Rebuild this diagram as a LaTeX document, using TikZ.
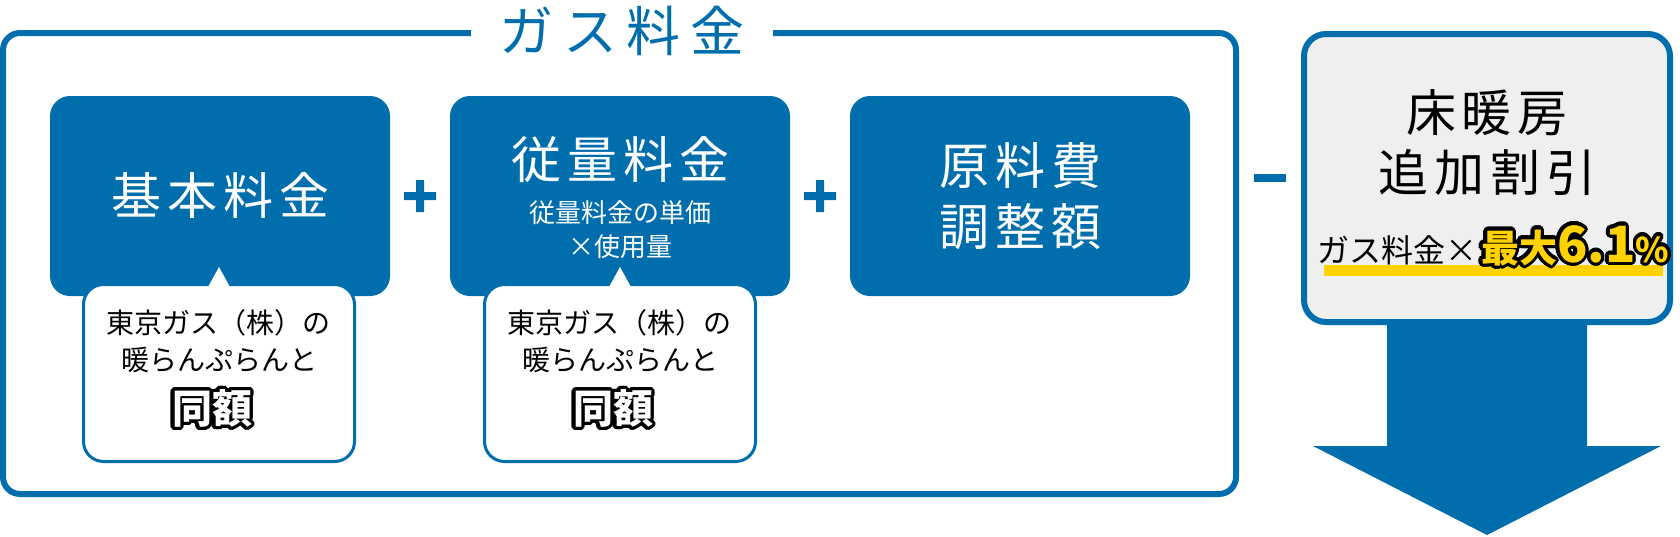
\documentclass[tikz,border=0pt]{standalone}
\usepackage{fontspec}
\usepackage[copies]{contour}
\usepackage{tikz}
\usetikzlibrary{calc}
\setmainfont{Noto Sans CJK JP}
\newfontfamily\jpwide{Noto Sans CJK JP}[LetterSpace=12]
\newfontfamily\jphead{Noto Sans CJK JP}[LetterSpace=18]
\definecolor{gasblue}{RGB}{0,110,173}
\definecolor{lightgrey}{RGB}{239,239,239}
\definecolor{markyellow}{RGB}{255,210,0}
\contournumber{32}
\contourlength{1.6pt}

\begin{document}
\begin{tikzpicture}[x=0.5pt,y=-0.5pt,
        bluebox/.style={fill=gasblue,rounded corners=10pt,minimum width=170pt,minimum height=100pt,inner sep=0pt},
        notebox/.style={draw=gasblue,line width=1.5pt,fill=white,rounded corners=10pt,minimum width=135.5pt,minimum height=88.5pt,inner sep=0pt},
        bigtxt/.style={text=white,font=\jpwide\fontsize{25}{30.5}\selectfont,inner sep=0pt,align=center},
        smalltxt/.style={text=white,font=\fontsize{13}{17}\selectfont,inner sep=0pt,align=center},
        notetxt/.style={font=\fontsize{14}{18}\selectfont,inner sep=0pt}]
        \useasboundingbox (0,0) rectangle (1680,536);

        % outer frame and its title
        \draw [gasblue,line width=3pt,rounded corners=8.5pt] (3,33) rectangle (1236,494);
        \node [fill=white,minimum width=151pt,inner sep=1pt,text=gasblue,font=\jphead\fontsize{27}{30}\selectfont] (title) at (622,31) {ガス料金};

        % the three charges
        \node [bluebox] (kihon) at (220,196) {};
        \node [bluebox] (juryo) at (620,196) {};
        \node [bluebox] (genryo) at (1020,196) {};
        \node [bigtxt] (kihontxt) at (220,195) {基本料金};
        \node [bigtxt] (juryotxt) at (620,160) {従量料金};
        \node [smalltxt] (juryosub) at (620,230) {従量料金の単価\\×使用量};
        \node [bigtxt] (genryotxt) at (1020,196) {原料費\\調整額};

        % + + -
        \foreach \px in {420,820}
            \fill [gasblue] (\px-16,192) rectangle (\px+16,200) (\px-4,180) rectangle (\px+4,212);
        \fill [gasblue] (1254,174) rectangle (1286,182);

        % callouts
        \foreach \cx/\nm in {219/noteA,620/noteB} {
            \node [notebox] (\nm) at (\cx,373) {};
            \fill [white] ($(\nm.north)+(-11,4)$) -- ($(\nm.north)+(0,-16)$) -- ($(\nm.north)+(11,4)$) -- cycle;
            \node [notetxt] (\nm-a) at ($(\nm)+(-1,-50)$) {東京ガス（株）の};
            \node [notetxt] (\nm-b) at ($(\nm)+(0,-13)$) {暖らんぷらんと};
            \node [inner sep=0pt,text=white,font=\bfseries\fontsize{20}{24}\selectfont] (\nm-c) at ($(\nm)+(-7,37)$) {\contour{black}{同額}};
        }

        % discount box and arrow
        \node [draw=gasblue,line width=3pt,fill=lightgrey,rounded corners=11pt,minimum width=183pt,minimum height=144pt,inner sep=0pt] (waribiki) at (1487,178) {};
        \fill [gasblue] ($(waribiki.south)+(-100,-3)$) -- ($(waribiki.south)+(-100,121)$) -- ($(waribiki.south)+(-174,121)$)
            -- ($(waribiki.south)+(0,210)$) -- ($(waribiki.south)+(174,121)$) -- ($(waribiki.south)+(100,121)$)
            -- ($(waribiki.south)+(100,-3)$) -- cycle;
        \node [font=\jpwide\fontsize{25}{30}\selectfont,align=center,inner sep=0pt] (waribikitxt) at (1487,143) {床暖房\\追加割引};
        \fill [fill=markyellow] (1324,265) rectangle (1663,276);
        \node [anchor=base,inner sep=0pt] (rate) at (1493,262) {\fontsize{16}{18}\selectfont ガス料金×\hspace{2pt}{\color{markyellow}\contour{black}{\bfseries\fontsize{19}{20}\selectfont 最大\fontsize{25}{30}\selectfont 6.1\fontsize{17}{20}\selectfont\%}}};
    \end{tikzpicture}
\end{document}
